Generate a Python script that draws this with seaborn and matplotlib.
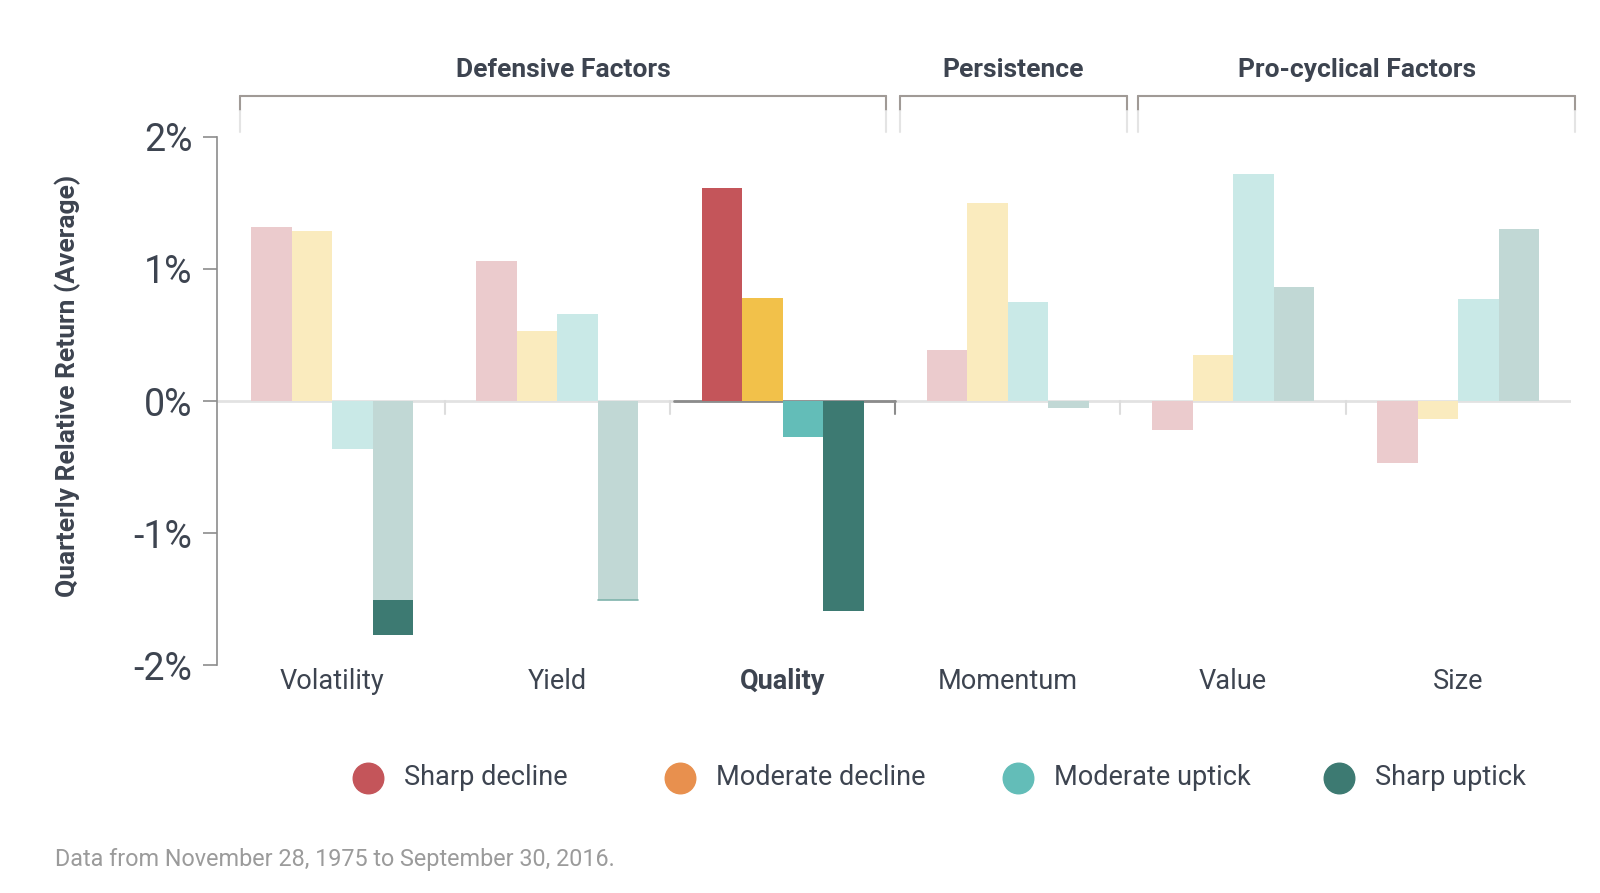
import matplotlib
matplotlib.use("Agg")
import matplotlib.pyplot as plt
from matplotlib.lines import Line2D
import pandas as pd
import seaborn as sns

factors = ["Volatility", "Yield", "Quality", "Momentum", "Value", "Size"]
regimes = ["Sharp decline", "Moderate decline", "Moderate uptick", "Sharp uptick"]

# average quarterly relative return, in %
sharp_decline = [1.32, 1.06, 1.61, 0.39, -0.22, -0.47]
moderate_decline = [1.29, 0.53, 0.78, 1.50, 0.35, -0.14]
moderate_uptick = [-0.36, 0.66, -0.27, 0.75, 1.72, 0.77]
sharp_uptick = [-1.51, -1.51, -1.59, -0.05, 0.86, 1.30]
volatility_tail = -1.77  # dark tail drawn under the faded volatility bar

group_names = ["Defensive Factors", "Persistence", "Pro-cyclical Factors"]
bracket_spans = [(-0.41, 2.46), (2.52, 3.53), (3.58, 5.52)]
highlight = "Quality"

strong = ["#C4555A", "#F2C14A", "#63BDB8", "#3D7A72"]
faded = ["#EBCBCD", "#FAEBBE", "#C9E9E7", "#C1D8D5"]
legend_colors = ["#C4555A", "#E8904E", "#63BDB8", "#3D7A72"]
legend_x = [0.230, 0.425, 0.636, 0.837]  # circle centres, figure fraction
text_color = "#3D4450"
axis_grey = "#8C8C8C"

rows = []
for regime, vals in zip(regimes, [sharp_decline, moderate_decline, moderate_uptick, sharp_uptick]):
    for f, v in zip(factors, vals):
        rows.append({"factor": f, "regime": regime, "value": v})
df = pd.DataFrame(rows)

sns.set_theme(style="white")
plt.rcParams["font.family"] = ["Roboto", "DejaVu Sans"]

fig = plt.figure(figsize=(16, 8.93), dpi=100)
ax = fig.add_axes([0.1358, 0.2553, 0.846, 0.5913])

sns.barplot(data=df, x="factor", y="value", hue="regime", order=factors,
            hue_order=regimes, width=0.72, dodge=True, saturation=1,
            legend=False, errorbar=None, ax=ax)

for i, cont in enumerate(ax.containers):
    for j, bar in enumerate(cont):
        bar.set_facecolor(strong[i] if factors[j] == highlight else faded[i])
        bar.set_edgecolor("none")
        bar.set_zorder(2)

# dark tail on the volatility / sharp uptick bar
vb = ax.containers[3][0]
ax.bar(vb.get_x() + vb.get_width() / 2, volatility_tail - sharp_uptick[0],
       bottom=sharp_uptick[0], width=vb.get_width(), color=strong[3],
       edgecolor="none", zorder=3)
# thin dark edge at the foot of the yield / sharp uptick bar
yb = ax.containers[3][1]
ax.plot([yb.get_x(), yb.get_x() + yb.get_width()], [sharp_uptick[1]] * 2,
        color="#7FB3AC", lw=1.2, zorder=3)

ax.set_xlim(-0.51, 5.5)
ax.set_ylim(-2, 2)

# zero line and group separators
ax.axhline(0, color="#E2E2E2", lw=2, zorder=1)
hi = factors.index(highlight)
for k in range(len(factors) - 1):
    x = k + 0.5
    c = axis_grey if x == hi + 0.5 else "#DDDDDD"
    ax.plot([x, x], [0, -0.1], color=c, lw=1.5, zorder=1)
ax.plot([hi - 0.48, hi + 0.5], [0, 0], color=axis_grey, lw=2, zorder=1.5)

# axes styling
for s in ["top", "right", "bottom"]:
    ax.spines[s].set_visible(False)
ax.spines["left"].set_color(axis_grey)
ax.spines["left"].set_linewidth(1.2)
ax.set_yticks([-2, -1, 0, 1, 2])
ax.set_yticklabels(["-2%", "-1%", "0%", "1%", "2%"])
ax.tick_params(axis="y", left=True, length=10, width=1.2, color=axis_grey,
               labelsize=27, labelcolor=text_color, pad=8)
ax.tick_params(axis="x", length=0, labelsize=19.5, labelcolor=text_color, pad=2)
for lbl in ax.get_xticklabels():
    if lbl.get_text() == highlight:
        lbl.set_fontweight("bold")
ax.set_xlabel("")
ax.set_ylabel("Quarterly Relative Return (Average)", fontsize=19,
              fontweight="semibold", color=text_color)
ax.yaxis.set_label_coords(-0.101, 0.528)

# group brackets
for name, (x0, x1) in zip(group_names, bracket_spans):
    ax.plot([x0, x1], [2.31, 2.31], color="#A09A96", lw=1.5, clip_on=False)
    for x in (x0, x1):
        ax.plot([x, x], [2.31, 2.2], color="#A09A96", lw=1.5, clip_on=False)
        ax.plot([x, x], [2.2, 2.04], color="#E4E4E4", lw=1.5, clip_on=False)
    ax.text((x0 + x1) / 2, 2.51, name, ha="center", va="center", fontsize=19,
            fontweight="bold", color=text_color, clip_on=False)

# legend: coloured dots with labels
legend_y = 0.1293
for lx, c, name in zip(legend_x, legend_colors, regimes):
    fig.add_artist(Line2D([lx], [legend_y], transform=fig.transFigure,
                          marker="o", ls="", markersize=22,
                          markerfacecolor=c, markeredgecolor=c))
    fig.text(lx + 0.0225, legend_y, name, ha="left", va="center",
             fontsize=19.5, color=text_color)

fig.text(0.0345, 0.038, "Data from November 28, 1975 to September 30, 2016.",
         ha="left", va="center", fontsize=16.8, color="#9B9B9B")

fig.savefig("out.png", dpi=100)
